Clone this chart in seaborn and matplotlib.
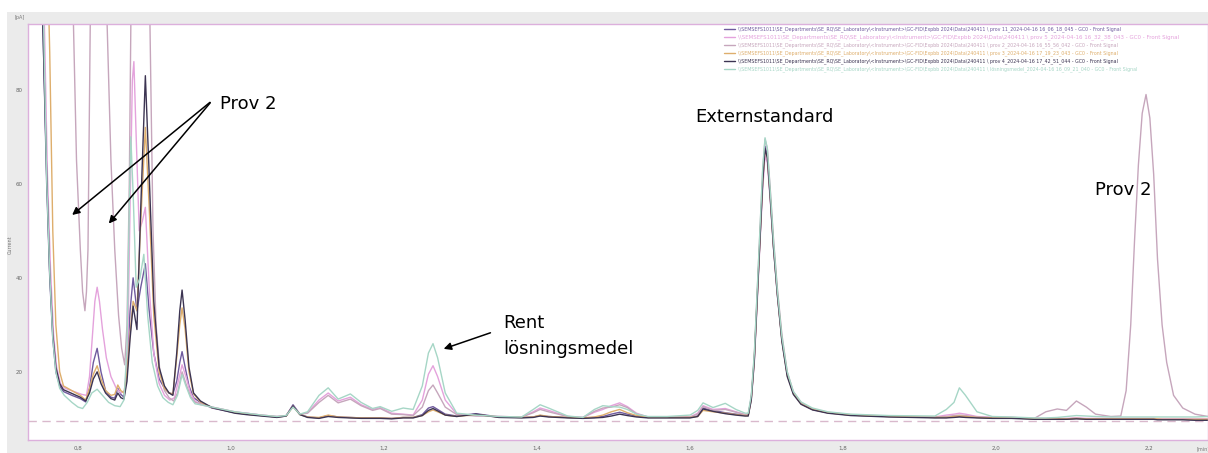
import pandas as pd
import matplotlib
matplotlib.use("Agg")
import matplotlib.pyplot as plt
from matplotlib.lines import Line2D
from matplotlib.patches import Rectangle
import seaborn as sns

# Kromatogram GC-FID, sex injektioner (avläst ur skärmbild)

prover = ["prov 11", "prov 5", "prov 2", "prov 3", "prov 4", "lösningsmedel"]
farger = ["#6f5a9e", "#e4a2dc", "#c6a6bc", "#deae6c", "#3c3452", "#a6d6c6"]
etiketter = [
    r"\\SEMSEFS1011\SE_Departments\SE_RQ\SE_Laboratory\<Instrument>\GC-FID\Expbb 2024\Data\240411 \ prov 11_2024-04-16 16_06_18_045 - GC0 - Front Signal",
    r"\\SEMSEFS1011\SE_Departments\SE_RQ\SE_Laboratory\<Instrument>\GC-FID\Expbb 2024\Data\240411 \ prov 5_2024-04-16 16_32_38_043 - GC0 - Front Signal",
    r"\\SEMSEFS1011\SE_Departments\SE_RQ\SE_Laboratory\<Instrument>\GC-FID\Expbb 2024\Data\240411 \ prov 2_2024-04-16 16_55_56_042 - GC0 - Front Signal",
    r"\\SEMSEFS1011\SE_Departments\SE_RQ\SE_Laboratory\<Instrument>\GC-FID\Expbb 2024\Data\240411 \ prov 3_2024-04-16 17_19_23_043 - GC0 - Front Signal",
    r"\\SEMSEFS1011\SE_Departments\SE_RQ\SE_Laboratory\<Instrument>\GC-FID\Expbb 2024\Data\240411 \ prov 4_2024-04-16 17_42_51_044 - GC0 - Front Signal",
    r"\\SEMSEFS1011\SE_Departments\SE_RQ\SE_Laboratory\<Instrument>\GC-FID\Expbb 2024\Data\240411 \ lösningsmedel_2024-04-16 16_09_21_040 - GC0 - Front Signal",
]

# tidig del (t < 0.96 min), prov 11 / prov 4 / prov 3 delar tidsaxel
t_tidig_lag = [0.735, 0.746, 0.754, 0.759, 0.763, 0.767, 0.771, 0.776, 0.781, 0.792,
               0.803, 0.810, 0.815, 0.820, 0.825, 0.830, 0.836, 0.843, 0.848, 0.852,
               0.856, 0.860, 0.864, 0.868, 0.872, 0.877, 0.882, 0.888, 0.893, 0.899,
               0.906, 0.913, 0.919, 0.924, 0.929, 0.933, 0.936, 0.940, 0.945, 0.951]
y_tidig_prov11 = [400, 180, 94, 60, 40, 27, 20, 17, 15.8, 15.0,
                  14.3, 13.6, 16.5, 22, 25, 20, 16, 14.6, 14.4, 16.5,
                  15.2, 14.6, 20, 33, 40, 33, 38, 43, 33, 24,
                  18.5, 16.5, 15.5, 15.3, 18, 22, 24.3, 21, 17, 14.5]
y_tidig_prov4 = [400, 180, 94, 62, 41, 28, 21, 17.5, 16.2, 15.4,
                 14.6, 13.8, 15.5, 18.5, 20, 17.5, 15.5, 14.3, 14.0, 15.5,
                 14.5, 14.2, 18, 27, 34, 29, 55, 83, 62, 35,
                 21, 17, 15.5, 15, 24, 33, 37.4, 31, 21, 15.5]
y_tidig_prov3 = [400, 300, 160, 115, 88, 50, 30, 20, 17, 16,
                 15, 14, 16.5, 19.5, 21.3, 18.5, 16, 15, 15.2, 17.2,
                 16, 15.5, 20, 28, 35, 33, 52, 72, 55, 32,
                 20, 16.5, 15.5, 15.3, 23, 30, 33.6, 29, 20, 15.3]

t_tidig_prov5 = [0.735, 0.748, 0.756, 0.760, 0.764, 0.768, 0.772, 0.777, 0.783, 0.795,
                 0.805, 0.811, 0.815, 0.819, 0.822, 0.825, 0.828, 0.832, 0.837, 0.843,
                 0.850, 0.856, 0.861, 0.865, 0.868, 0.871, 0.873, 0.876, 0.880, 0.884,
                 0.888, 0.893, 0.899, 0.906, 0.913, 0.920, 0.926, 0.931, 0.936, 0.941,
                 0.947, 0.953]
y_tidig_prov5 = [400, 200, 94, 62, 42, 28, 21, 17.5, 16.5, 15.8,
                 15.2, 15, 19, 28, 35, 38, 35, 29, 23, 19,
                 16.5, 15.5, 16, 25, 55, 82, 86, 70, 50, 52,
                 55, 38, 24, 17.5, 15, 14, 14.5, 18, 21.5, 19,
                 15.5, 13.8]

t_tidig_prov2 = [0.735, 0.780, 0.790, 0.794, 0.798, 0.803, 0.806, 0.809, 0.811, 0.813,
                 0.816, 0.822, 0.828, 0.834, 0.838, 0.843, 0.848, 0.853, 0.857, 0.861,
                 0.864, 0.867, 0.870, 0.878, 0.888, 0.894, 0.898, 0.902, 0.907, 0.913,
                 0.919, 0.925, 0.930, 0.936, 0.941, 0.947, 0.953]
y_tidig_prov2 = [400, 300, 150, 94, 65, 46, 37, 33, 37, 46,
                 94, 200, 220, 150, 94, 65, 46, 32, 25, 21.5,
                 30, 60, 110, 250, 200, 94, 50, 30, 20, 16,
                 14.5, 13.8, 15.5, 20, 17.5, 14.8, 13.5]

t_tidig_losn = [0.735, 0.748, 0.755, 0.759, 0.763, 0.767, 0.771, 0.776, 0.782, 0.792,
                0.800, 0.806, 0.812, 0.818, 0.825, 0.832, 0.840, 0.848, 0.855, 0.860,
                0.864, 0.867, 0.869, 0.872, 0.876, 0.881, 0.886, 0.891, 0.897, 0.904,
                0.911, 0.918, 0.924, 0.930, 0.936, 0.941, 0.947, 0.953]
y_tidig_losn = [400, 190, 94, 61, 41, 27, 20, 16.5, 15, 13.5,
                12.5, 12.2, 13.5, 15.5, 16.3, 15, 13.5, 12.8, 12.6, 14,
                25, 55, 70, 58, 38, 40, 45, 32, 22, 17,
                14.5, 13.5, 13, 15, 19.4, 17, 14.5, 13.2]

# sen del, gemensam tidsaxel för alla prover
t_sen = [0.96, 0.975, 0.99, 1.005, 1.02, 1.04, 1.06, 1.072, 1.081, 1.09,
         1.10, 1.115, 1.127, 1.14, 1.156, 1.17, 1.185, 1.195, 1.21, 1.225,
         1.238, 1.25, 1.258, 1.264, 1.27, 1.28, 1.295, 1.32, 1.35, 1.38,
         1.395, 1.404, 1.415, 1.44, 1.46, 1.475, 1.486, 1.497, 1.508, 1.518,
         1.53, 1.545, 1.57, 1.60, 1.61, 1.617, 1.63, 1.646, 1.66, 1.672,
         1.676, 1.680, 1.684, 1.688, 1.692, 1.695, 1.698, 1.701, 1.705, 1.709,
         1.714, 1.72, 1.727, 1.735, 1.745, 1.76, 1.78, 1.81, 1.86, 1.92,
         1.935, 1.945, 1.952, 1.96, 1.975, 1.995, 2.02, 2.05, 2.065, 2.08,
         2.092, 2.105, 2.118, 2.13, 2.15, 2.163, 2.17, 2.176, 2.181, 2.186,
         2.191, 2.196, 2.201, 2.206, 2.211, 2.217, 2.223, 2.232, 2.244, 2.26,
         2.277]
y_sen_prov11 = [13.5, 12.3, 11.8, 11.3, 11.0, 10.7, 10.4, 10.6, 13.0, 11.0,
                10.4, 10.2, 10.7, 10.4, 10.3, 10.2, 10.2, 10.2, 10.1, 10.3,
                10.3, 10.9, 12.3, 12.6, 12.0, 11.0, 10.6, 11.1, 10.4, 10.3,
                10.4, 10.7, 10.5, 10.3, 10.2, 10.3, 10.5, 11.0, 11.4, 11.0,
                10.6, 10.3, 10.3, 10.3, 10.6, 12.3, 11.8, 11.3, 11.0, 10.8,
                10.8, 14.5, 23, 37, 51, 61, 68, 66, 57, 47,
                37, 27, 19.5, 15.5, 13.3, 12.0, 11.3, 10.8, 10.5, 10.3,
                10.3, 10.4, 10.5, 10.4, 10.3, 10.2, 10.2, 10.0, 10.0, 10.0,
                10.0, 10.1, 10.0, 10.0, 10.0, 10.0, 10.0, 10.0, 10.0, 10.0,
                10.0, 10.0, 10.0, 10.0, 9.9, 9.9, 9.9, 9.9, 9.9, 9.8,
                9.8]
y_sen_prov4 = [13.8, 12.4, 11.8, 11.2, 10.9, 10.6, 10.3, 10.6, 12.8, 10.9,
               10.3, 10.1, 10.5, 10.3, 10.2, 10.1, 10.1, 10.1, 10.0, 10.2,
               10.2, 10.7, 11.8, 12.2, 11.7, 10.8, 10.5, 11.0, 10.3, 10.2,
               10.3, 10.6, 10.4, 10.2, 10.1, 10.2, 10.3, 10.6, 11.0, 10.7,
               10.4, 10.2, 10.2, 10.2, 10.5, 12.1, 11.6, 11.1, 10.8, 10.6,
               10.6, 14.0, 22.5, 36.5, 50.5, 60.5, 67.5, 65.5, 56.5, 46.5,
               36.5, 26.5, 19.0, 15.2, 13.1, 11.9, 11.2, 10.7, 10.4, 10.2,
               10.2, 10.3, 10.4, 10.3, 10.2, 10.1, 10.1, 9.9, 9.9, 9.9,
               9.9, 10.0, 9.9, 9.9, 9.9, 9.9, 9.9, 9.9, 9.9, 9.9,
               9.9, 9.9, 9.9, 9.9, 9.8, 9.8, 9.8, 9.8, 9.8, 9.7,
               9.7]
y_sen_prov3 = [13.6, 12.4, 11.9, 11.4, 11.0, 10.7, 10.4, 10.6, 12.6, 10.9,
               10.4, 10.3, 10.8, 10.4, 10.3, 10.2, 10.2, 10.2, 10.1, 10.3,
               10.3, 10.7, 11.5, 11.9, 11.5, 10.8, 10.5, 10.9, 10.4, 10.3,
               10.4, 10.8, 10.5, 10.3, 10.2, 10.4, 10.8, 11.5, 12.0, 11.3,
               10.7, 10.3, 10.3, 10.3, 10.5, 11.8, 11.5, 11.2, 10.9, 10.7,
               10.7, 14.2, 22.8, 36.8, 50.8, 60.8, 67.0, 65.8, 56.8, 46.8,
               36.8, 26.8, 19.3, 15.4, 13.2, 12.0, 11.3, 10.8, 10.5, 10.3,
               10.3, 10.5, 10.6, 10.5, 10.3, 10.2, 10.2, 10.0, 10.0, 10.0,
               10.0, 10.1, 10.0, 10.0, 10.0, 10.0, 10.0, 10.0, 10.0, 10.0,
               10.0, 10.0, 10.0, 10.0, 10.0, 9.9, 9.9, 9.9, 9.9, 9.9,
               9.9]
y_sen_prov5 = [13.0, 12.5, 12.0, 11.4, 11.2, 10.8, 10.5, 10.7, 12.8, 11.0,
               11.3, 14.0, 15.5, 13.8, 14.6, 13.0, 12.0, 12.4, 11.2, 11.0,
               10.8, 14.0, 19.5, 21.3, 19.0, 14.0, 11.0, 10.7, 10.5, 10.4,
               11.5, 12.3, 11.8, 10.5, 10.3, 11.4, 12.0, 12.8, 13.4, 12.6,
               11.2, 10.4, 10.4, 10.4, 11.2, 12.8, 12.0, 12.2, 11.5, 10.9,
               10.9, 14.0, 22.0, 35.5, 49.5, 59.0, 66.0, 64.5, 56.0, 46.5,
               36.5, 27.0, 19.5, 15.5, 13.3, 12.0, 11.3, 10.8, 10.5, 10.4,
               10.8, 11.0, 11.2, 11.0, 10.5, 10.3, 10.3, 10.1, 10.1, 10.1,
               10.1, 10.2, 10.1, 10.1, 10.1, 10.1, 10.1, 10.1, 10.1, 10.1,
               10.1, 10.1, 10.1, 10.1, 10.0, 10.0, 10.0, 10.0, 10.0, 10.0,
               10.0]
y_sen_prov2 = [13.3, 12.5, 12.0, 11.5, 11.2, 10.8, 10.5, 10.7, 12.7, 11.0,
               11.2, 13.5, 15.0, 13.4, 14.2, 12.8, 11.8, 12.2, 11.0, 10.9,
               10.7, 12.5, 16.0, 17.2, 15.5, 12.5, 10.9, 10.6, 10.5, 10.4,
               11.3, 12.0, 11.5, 10.5, 10.3, 11.6, 12.3, 12.5, 13.0, 12.4,
               11.0, 10.4, 10.4, 10.4, 11.0, 12.6, 11.8, 12.0, 11.4, 10.9,
               10.9, 14.5, 23.5, 38, 53, 63, 69.5, 67.5, 58.5, 48.5,
               38, 28, 20, 15.8, 13.5, 12.1, 11.4, 10.9, 10.6, 10.4,
               10.5, 10.7, 10.8, 10.7, 10.4, 10.3, 10.3, 10.1, 11.5, 12.1,
               11.8, 13.8, 12.5, 11.0, 10.5, 10.6, 16, 30, 48, 64,
               75, 79, 74, 62, 44, 30, 22, 15, 12.3, 11.0,
               10.5]
y_sen_losn = [13.0, 12.5, 12.0, 11.5, 11.2, 10.8, 10.5, 10.7, 12.5, 11.0,
              11.5, 15.0, 16.6, 14.2, 15.3, 13.5, 12.2, 12.6, 11.6, 12.3,
              12.0, 17.0, 24.0, 26.0, 23.0, 15.5, 11.2, 10.8, 10.5, 10.4,
              12.0, 13.0, 12.3, 10.6, 10.3, 12.0, 12.8, 12.6, 12.5, 12.0,
              11.0, 10.5, 10.5, 10.8, 11.8, 13.4, 12.4, 13.3, 12.0, 11.2,
              11.2, 15.0, 24.0, 38.5, 53.5, 63.5, 69.8, 67.5, 58.0, 48.0,
              37.5, 27.5, 20.0, 15.8, 13.6, 12.3, 11.5, 11.0, 10.7, 10.6,
              12.0, 13.5, 16.6, 15.0, 11.5, 10.5, 10.4, 10.2, 10.2, 10.3,
              10.5, 10.7, 10.6, 10.5, 10.4, 10.4, 10.4, 10.4, 10.4, 10.4,
              10.4, 10.4, 10.4, 10.4, 10.4, 10.4, 10.4, 10.4, 10.4, 10.4,
              10.5]

x_tick_varden = [0.8, 1.0, 1.2, 1.4, 1.6, 1.8, 2.0, 2.2]
x_tick_text = ["0,8", "1,0", "1,2", "1,4", "1,6", "1,8", "2,0", "2,2"]
y_tick_varden = [20, 40, 60, 80]
baslinje = 9.6

#################################################################################################

tidig = {
    "prov 11": (t_tidig_lag, y_tidig_prov11, y_sen_prov11),
    "prov 5": (t_tidig_prov5, y_tidig_prov5, y_sen_prov5),
    "prov 2": (t_tidig_prov2, y_tidig_prov2, y_sen_prov2),
    "prov 3": (t_tidig_lag, y_tidig_prov3, y_sen_prov3),
    "prov 4": (t_tidig_lag, y_tidig_prov4, y_sen_prov4),
    "lösningsmedel": (t_tidig_losn, y_tidig_losn, y_sen_losn),
}
delar = []
for namn in prover:
    t_e, y_e, y_s = tidig[namn]
    delar.append(pd.DataFrame({"tid": list(t_e) + t_sen,
                               "signal": list(y_e) + y_s,
                               "prov": namn}))
df = pd.concat(delar, ignore_index=True)

sns.set_theme(style="white")
plt.rcParams["font.family"] = ["DejaVu Sans"]

W, H = 1208, 453
fig = plt.figure(figsize=(W / 100, H / 100), dpi=100)
fig.patch.set_facecolor("white")
fig.patches.append(Rectangle((7 / W, 0), 1 - 7 / W, (H - 12) / H,
                             transform=fig.transFigure, facecolor="#ebebeb",
                             edgecolor="none", zorder=-10))
ax = fig.add_axes([28 / W, (H - 440) / H, (W - 28) / W, (440 - 24) / H])
ax.set_facecolor("white")

ax.axhline(baslinje, color="#d9b9cc", lw=1.0, ls=(0, (6, 4)), zorder=1)

sns.lineplot(data=df, x="tid", y="signal", hue="prov", hue_order=prover,
             palette=dict(zip(prover, farger)), sort=False, estimator=None,
             linewidth=1.0, legend=False, ax=ax, zorder=2)

ax.set_xlim(0.7346, 2.277)
ax.set_ylim(5.5, 94.0)
ax.set_xticks(x_tick_varden)
ax.set_xticklabels(x_tick_text)
ax.set_yticks(y_tick_varden)
ax.set_yticklabels([str(v) for v in y_tick_varden])
ax.tick_params(axis="both", labelsize=4, labelcolor="#666666", length=2,
               width=0.5, color="#bbbbbb", pad=2)
ax.set_xlabel("")
ax.set_ylabel("")
for s in ax.spines.values():
    s.set_color("#dcb0dc")
    s.set_linewidth(1.0)

fig.text(10 / W, 1 - 245 / H, "Current", rotation=90, fontsize=3.5,
         color="#777777", ha="center", va="center")
fig.text(20 / W, 1 - 18 / H, "[pA]", fontsize=3.5, color="#777777",
         ha="center", va="center")
fig.text(1203 / W, 1 - 449 / H, "[min]", fontsize=3.5, color="#777777",
         ha="center", va="center")

handtag = [Line2D([0], [0], color=c, lw=1.0) for c in farger]
leg = ax.legend(handtag, etiketter, loc="upper left", bbox_to_anchor=(0.588, 0.998),
                fontsize=3.4, frameon=False, handlelength=2.4, labelspacing=0.48,
                borderaxespad=0.0, handletextpad=0.7)
for i, (text, c) in enumerate(zip(leg.get_texts(), farger)):
    text.set_color(c)
    if i == 1:
        text.set_fontsize(4.0)

# annoteringar
pil = dict(arrowstyle="-|>", color="black", lw=1.1, mutation_scale=11)
ax.text(0.9856, 77.0, "Prov 2", fontsize=13, color="black", ha="left", va="center")
ax.annotate("", xy=(0.7895, 53.0), xytext=(0.9752, 77.7), arrowprops=pil)
ax.annotate("", xy=(0.8379, 51.1), xytext=(0.9752, 77.7), arrowprops=pil)
ax.text(1.6065, 74.3, "Externstandard", fontsize=13, color="black", ha="left", va="center")
ax.text(2.1294, 58.7, "Prov 2", fontsize=13, color="black", ha="left", va="center")
ax.text(1.3556, 30.4, "Rent", fontsize=13, color="black", ha="left", va="center")
ax.text(1.3556, 24.9, "lösningsmedel", fontsize=13, color="black", ha="left", va="center")
ax.annotate("", xy=(1.2745, 24.7), xytext=(1.3425, 28.5), arrowprops=pil)

plt.savefig("out.png", dpi=100)
plt.close()
